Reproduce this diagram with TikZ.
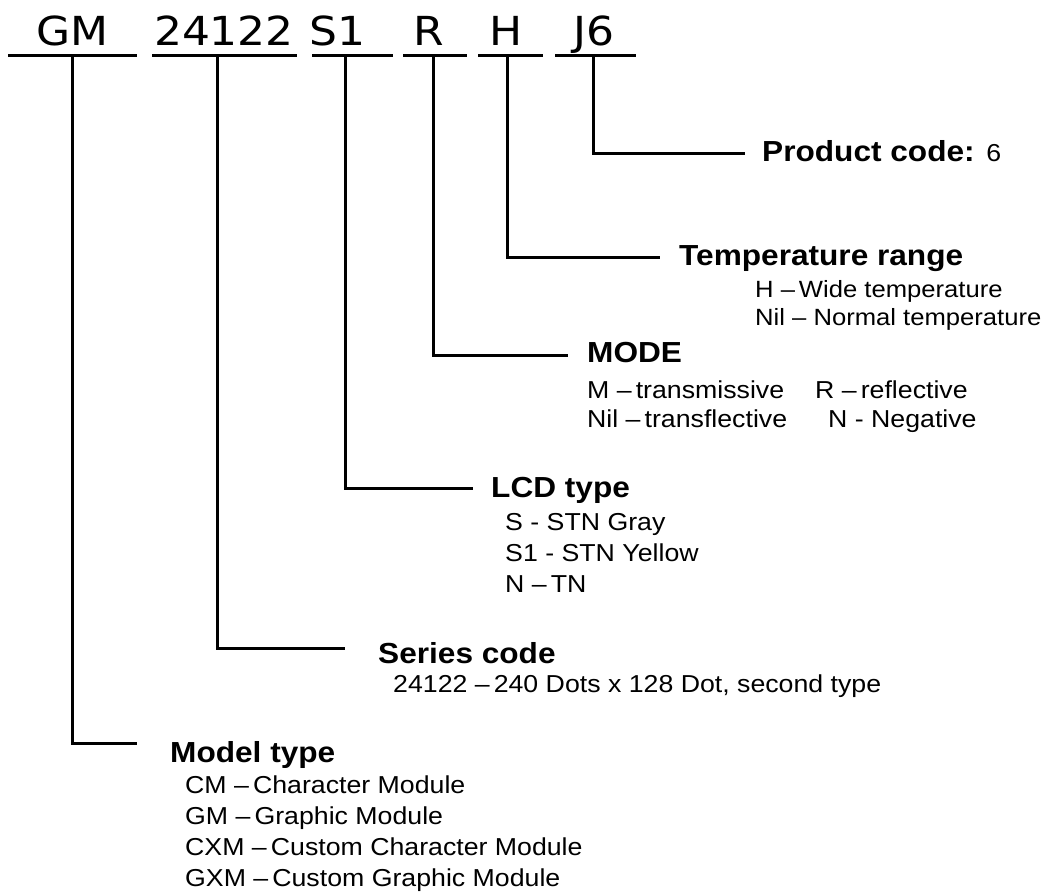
\documentclass[tikz,border=0pt]{standalone}
\usepackage{fontspec}
\setmainfont{Liberation Sans}[FakeStretch=1.09]
\newfontfamily\codefont{DejaVu Sans}[FakeStretch=1.1]
\usetikzlibrary{positioning}

\begin{document}
\begin{tikzpicture}[x=1pt, y=-1pt,
  code/.style={anchor=base, inner sep=0pt, font=\codefont\fontsize{40}{40}\selectfont},
  head/.style={anchor=base west, inner sep=0pt, font=\bfseries\fontsize{29}{30}\selectfont},
  item/.style={anchor=base west, inner sep=0pt, font=\fontsize{24.5}{30}\selectfont},
  rule/.style={line width=3pt},
  lead/.style={line width=3pt}
]
\useasboundingbox (0,0) rectangle (1048,893);

% part number, underlined piece by piece
\node[code] (gm)   at (72.5,46) {GM};
\node[code] (ser)  at (224,46)  {24122};
\node[code] (lcd)  at (337.5,46) {S1};
\node[code] (mode) at (429,46)  {R};
\node[code] (temp) at (506,46)  {H};
\node[code] (prod) at (593.5,46) {J6};

\coordinate (gmL) at (8,56);     \coordinate (gmR) at (137,56);
\coordinate (serL) at (152,56);  \coordinate (serR) at (297,56);
\coordinate (lcdL) at (312,56);  \coordinate (lcdR) at (393,56);
\coordinate (modeL) at (403,56); \coordinate (modeR) at (467,56);
\coordinate (tempL) at (478,56); \coordinate (tempR) at (543,56);
\coordinate (prodL) at (555,56); \coordinate (prodR) at (636,56);
\draw[rule] (gmL) -- (gmR);
\draw[rule] (serL) -- (serR);
\draw[rule] (lcdL) -- (lcdR);
\draw[rule] (modeL) -- (modeR);
\draw[rule] (tempL) -- (tempR);
\draw[rule] (prodL) -- (prodR);

% legend headings
\node[head] (prodH) at (762,162) {Product code: {\mdseries\fontsize{24.5}{30}\selectfont 6}};
\node[head] (tempH) at (679,265) {Temperature range};
\node[head] (modeH) at (587,362) {MODE};
\node[head] (lcdH)  at (491,497) {LCD type};
\node[head] (serH)  at (378,663) {Series code};
\node[head] (gmH)   at (170,762) {Model type};

% legend entries
\foreach \t [count=\i] in {H –\,Wide temperature, Nil – Normal temperature}
  \node[item, font=\fontsize{23.5}{30}\selectfont] (temp\i) at (755,{297+28*(\i-1)}) {\t};
\node[item] (mode1) at (587,398) {M –\,transmissive};
\node[item] (mode2) at (587,427) {Nil –\,transflective};
\node[item] (mode3) at (815,398) {R –\,reflective};
\node[item] (mode4) at (828,427) {N - Negative};
\foreach \t [count=\i] in {S - STN Gray, S1 - STN Yellow, N –\,TN}
  \node[item] (lcd\i) at (505,{530+31*(\i-1)}) {\t};
\node[item] (ser1) at (393,692) {24122 –\,240 Dots x 128 Dot, second type};
\foreach \t [count=\i] in {CM –\,Character Module, GM –\,Graphic Module,
    CXM –\,Custom Character Module, GXM –\,Custom Graphic Module}
  \node[item] (gm\i) at (185,{793+31*(\i-1)}) {\t};

% leader lines
\coordinate (prodE) at (745,154);
\coordinate (tempE) at (660,257);
\coordinate (modeE) at (568,355);
\coordinate (lcdE)  at (473,488);
\coordinate (serE)  at (345,648);
\coordinate (gmE)   at (137,743);
\draw[lead] (prodL -| 593,0) |- (prodE);
\draw[lead] (tempL -| 507,0) |- (tempE);
\draw[lead] (modeL -| 433,0) |- (modeE);
\draw[lead] (lcdL -| 345,0) |- (lcdE);
\draw[lead] (serL -| 217,0) |- (serE);
\draw[lead] (gmL -| 72,0) |- (gmE);
\end{tikzpicture}
\end{document}
